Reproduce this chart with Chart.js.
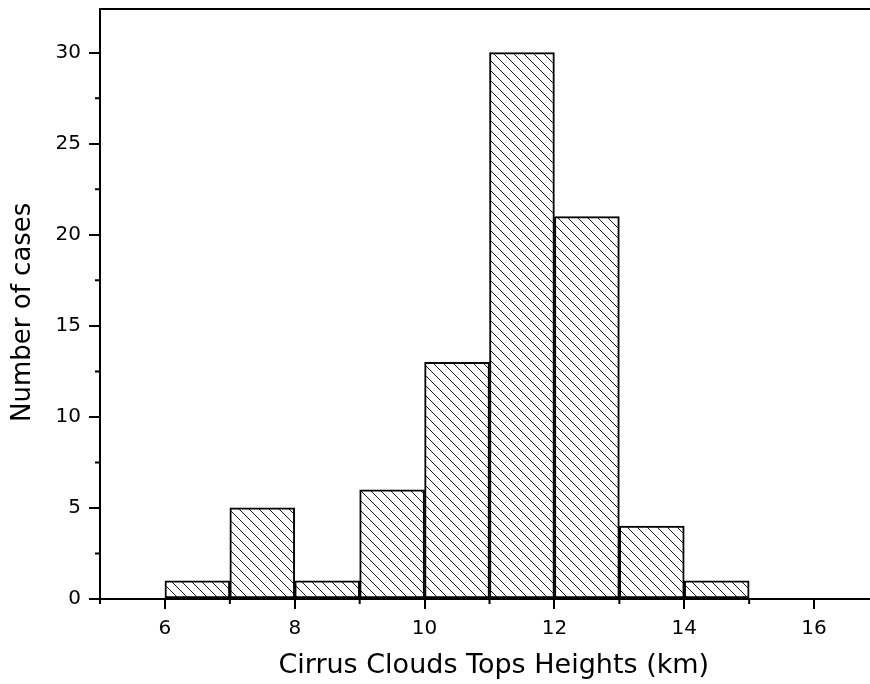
<!DOCTYPE html>
<html>
<head>
<meta charset="utf-8">
<script src="https://cdn.jsdelivr.net/npm/chart.js@4"></script>
<style>
html,body{margin:0;padding:0;background:#fff;overflow:hidden;}
#wrap{width:870px;height:684px;overflow:hidden;}
canvas{display:block;}
</style>
</head>
<body>
<div id="wrap"><canvas id="c" width="880" height="684" style="width:880px;height:684px"></canvas></div>
<script>
// Histogram data: bin centers (km) and counts
const binCenters = [6.5, 7.5, 8.5, 9.5, 10.5, 11.5, 12.5, 13.5, 14.5];
const counts = [1, 5, 1, 6, 13, 30, 21, 4, 1];
const xMajorTicks = [6, 8, 10, 12, 14, 16];
const xMinorTicks = [5, 7, 9, 11, 13, 15, 17];
const yMajorTicks = [0, 5, 10, 15, 20, 25, 30];
const yMinorTicks = [2.5, 7.5, 12.5, 17.5, 22.5, 27.5];
const xTitle = ' Cirrus Clouds Tops Heights (km)';
const yTitle = 'Number of cases  ';

function hatch() {
  const s = 10;
  const c = document.createElement('canvas');
  c.width = s; c.height = s;
  const g = c.getContext('2d');
  g.fillStyle = '#fff';
  g.fillRect(0, 0, s, s);
  g.strokeStyle = '#1a1a1a';
  g.lineWidth = 1;
  g.beginPath();
  g.moveTo(-1, -1); g.lineTo(s + 1, s + 1);
  g.moveTo(-1, s - 1); g.lineTo(1, s + 1);
  g.moveTo(s - 1, -1); g.lineTo(s + 1, 1);
  g.stroke();
  return g.createPattern(c, 'repeat');
}

const FONT = "'DejaVu Sans', Verdana, sans-serif";

const frame = {
  id: 'frame',
  afterDraw(chart) {
    const ctx = chart.ctx, a = chart.chartArea;
    const xs = chart.scales.x, ys = chart.scales.y;
    ctx.save();
    ctx.strokeStyle = '#000';
    ctx.lineWidth = 2;
    ctx.beginPath();
    ctx.moveTo(a.left - 1, a.top);
    ctx.lineTo(a.right + 1, a.top);
    ctx.moveTo(a.right, a.top);
    ctx.lineTo(a.right, a.bottom);
    xMinorTicks.forEach(v => {
      const px = xs.getPixelForValue(v);
      ctx.moveTo(px, a.bottom);
      ctx.lineTo(px, a.bottom + 5);
    });
    yMinorTicks.forEach(v => {
      const py = ys.getPixelForValue(v);
      ctx.moveTo(a.left, py);
      ctx.lineTo(a.left - 5, py);
    });
    ctx.stroke();
    ctx.restore();
  }
};

new Chart(document.getElementById('c'), {
  type: 'bar',
  data: {
    datasets: [{
      data: binCenters.map((x, i) => ({ x: x, y: counts[i] })),
      backgroundColor: hatch(),
      borderColor: '#000',
      borderWidth: 2,
      borderSkipped: false,
      barPercentage: 1,
      categoryPercentage: 1
    }]
  },
  options: {
    responsive: false,
    animation: false,
    events: [],
    layout: { padding: 0 },
    plugins: { legend: { display: false }, tooltip: { enabled: false } },
    scales: {
      x: {
        type: 'linear',
        min: 5, max: 17,
        offset: false,
        afterBuildTicks: s => { s.ticks = xMajorTicks.map(v => ({ value: v })); },
        afterFit: s => { s.height = 85; s.paddingLeft = 0; s.paddingRight = 1; },
        ticks: { color: '#000', font: { family: FONT, size: 20 }, padding: 8, maxRotation: 0, autoSkip: false },
        grid: { display: true, offset: false, drawOnChartArea: false, drawTicks: true, tickLength: 10, tickWidth: 2, tickColor: '#000', color: '#000', lineWidth: 2 },
        border: { display: true, color: '#000', width: 2 },
        title: { display: true, text: xTitle, color: '#000', font: { family: FONT, size: 27 }, padding: { top: 0, bottom: 2 } }
      },
      y: {
        type: 'linear',
        min: 0, max: 32.4,
        afterBuildTicks: s => { s.ticks = yMajorTicks.map(v => ({ value: v })); },
        afterFit: s => { s.width = 100; s.paddingTop = 9; s.paddingBottom = 0; },
        ticks: { color: '#000', font: { family: FONT, size: 20 }, padding: 8, autoSkip: false },
        grid: { display: true, offset: false, drawOnChartArea: false, drawTicks: true, tickLength: 11, tickWidth: 2, tickColor: '#000', color: '#000', lineWidth: 2 },
        border: { display: true, color: '#000', width: 2 },
        title: { display: true, text: yTitle, color: '#000', font: { family: FONT, size: 26 }, padding: { top: 8, bottom: 0 } }
      }
    }
  },
  plugins: [frame]
});
</script>
</body>
</html>
